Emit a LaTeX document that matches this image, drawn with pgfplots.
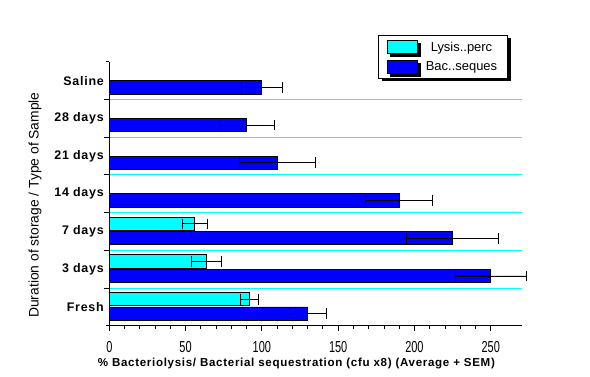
\documentclass[border=0pt]{standalone}
\usepackage{fontspec}
\setmainfont{Liberation Sans}
\newfontfamily\lsfont[LetterSpace=6]{Liberation Sans}
\usepackage{pgfplots}
\pgfplotsset{compat=1.18}
\usetikzlibrary{shadows}
\definecolor{lys}{RGB}{0,255,255}
\definecolor{bac}{RGB}{0,0,255}
\begin{document}
\begin{tikzpicture}
\path (0,0) rectangle (590bp,377bp);
\begin{axis}[
  at={(109.3bp,51.3bp)}, anchor=south west,
  width=413bp, height=264bp, scale only axis,
  xbar, bar width=13.3bp,
  xmin=0, xmax=270.7, ymin=-0.5, ymax=6.5,
  clip=false,
  axis x line*=bottom, axis y line*=left,
  axis line style={-, black, line width=0.8bp},
  tick align=outside,
  major tick length=5bp, minor tick length=3bp,
  tick style={black, line width=0.8bp},
  xtick={0,50,100,150,200,250}, minor x tick num=4,
  ytick={0.5,1.5,2.5,3.5,4.5,5.5}, yticklabels={},
  minor ytick={-0.5,6.5},
  ymajorgrids, major grid style={lys, line width=0.8bp},
  extra y ticks={0,1,2,3,4,5,6},
  extra y tick labels={Fresh,3 days,7 days,14 days,21 days,28 days,Saline},
  extra y tick style={major tick length=0pt, grid=none,
     yticklabel style={font=\lsfont\bfseries\fontsize{12.5}{13}\selectfont, xshift=-2bp}},
  xticklabel style={font=\fontsize{11}{12}\selectfont, yshift=-6bp, yscale=1.45},
  /pgf/number format/assume math mode=true,
  xlabel={\% Bacteriolysis/ Bacterial sequestration (cfu x8) (Average + SEM)},
  xlabel style={font=\lsfont\bfseries\fontsize{11.6}{13}\selectfont,
     at={(axis description cs:0.453,-0.144)}, anchor=center},
  ylabel={Duration of storage / Type of Sample},
  ylabel style={font=\fontsize{13.9}{15}\selectfont,
     at={(axis description cs:-0.18,0.457)}, anchor=center},
  legend style={at={(axis description cs:0.651,1.101)}, anchor=north west,
     draw=black, line width=0.8bp, fill=white,
     drop shadow={shadow xshift=3bp, shadow yshift=-3bp, fill=black, opacity=1},
     font=\fontsize{13}{14}\selectfont,
     inner xsep=8.5bp, inner ysep=4.5bp, row sep=4.5bp},
  error bars/x dir=both, error bars/x explicit,
  error bars/error mark=|,
  error bars/error bar style={line width=0.8bp, black},
  error bars/error mark options={mark size=5.3bp, line width=0.8bp, black},
]
\addplot[fill=lys, draw=black, line width=0.8bp, bar shift=7.6bp,
  legend image code/.code={\draw[fill=lys, draw=black, line width=0.8bp] (0bp,-6.5bp) rectangle (30bp,6.5bp); \path (36bp,0bp);}]
  coordinates {(91.8,0) +- (5.9,0) (63.6,1) +- (10,0) (56,2) +- (8.2,0)};
\addplot[fill=bac, draw=black, line width=0.8bp, bar shift=-6.8bp,
  legend image code/.code={\draw[fill=bac, draw=black, line width=0.8bp] (0bp,-6.5bp) rectangle (30bp,6.5bp); \path (36bp,0bp);}]
  coordinates {(130,0) +- (12,0) (250,1) +- (23.3,0) (225,2) +- (30,0)
               (190,3) +- (22,0) (110,4) +- (25,0) (90,5) +- (18,0) (100,6) +- (13.6,0)};
\legend{Lysis..perc, Bac..seques}
\end{axis}
\end{tikzpicture}
\end{document}
